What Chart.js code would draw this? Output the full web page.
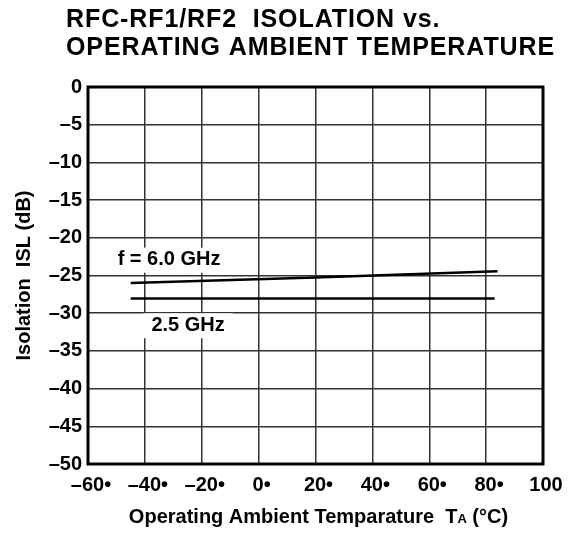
<!DOCTYPE html>
<html>
<head>
<meta charset="utf-8">
<script src="https://cdn.jsdelivr.net/npm/chart.js@4/dist/chart.umd.min.js"></script>
<style>
  html, body { margin: 0; padding: 0; background: #fff; }
  #wrap { width: 570px; height: 534px; position: relative; }
</style>
</head>
<body>
<div id="wrap"><canvas id="islChart"></canvas></div>
<script>
// values
const titleLines = ['RFC-RF1/RF2  ISOLATION vs.', 'OPERATING AMBIENT TEMPERATURE'];

const xTicks = [-60, -40, -20, 0, 20, 40, 60, 80, 100];
const xTickLabels = ['–60•', '–40•', '–20•', '0•', '20•', '40•', '60•', '80•', '100'];
const yTicks = [0, -5, -10, -15, -20, -25, -30, -35, -40, -45, -50];
const yTickLabels = ['0', '–5', '–10', '–15', '–20', '–25', '–30', '–35', '–40', '–45', '–50'];

const temp6G = [-45, 20, 84];
const isl6G = [-26.0, -25.25, -24.45];
const temp25G = [-45, 83];
const isl25G = [-28.05, -28.05];

const curveLabels = [
    { text: 'f = 6.0 GHz', x: -31.5, y: -22.9 },
    { text: '2.5 GHz', x: -24.8, y: -31.6 }
];

const FONT = '"Liberation Sans", Arial, Helvetica, sans-serif';

function toPoints(xs, ys) {
    return xs.map((x, i) => ({ x: x, y: ys[i] }));
}

// title, curve labels with white backing, and the heavy frame
const drawExtras = {
    id: 'drawExtras',
    beforeDatasetsDraw(chart) {
        const ctx = chart.ctx;
        const xs = chart.scales.x, ys = chart.scales.y;
        ctx.save();
        ctx.font = 'bold 20px ' + FONT;
        ctx.textAlign = 'center';
        ctx.textBaseline = 'middle';
        curveLabels.forEach(l => {
            const px = xs.getPixelForValue(l.x);
            const py = ys.getPixelForValue(l.y);
            const w = ctx.measureText(l.text).width;
            ctx.fillStyle = '#fff';
            ctx.fillRect(px - w / 2 - 8, py - 12, w + 16, 25);
            ctx.fillStyle = '#000';
            ctx.fillText(l.text, px, py);
        });
        ctx.restore();
    },
    afterDraw(chart) {
        const ctx = chart.ctx;
        const a = chart.chartArea;
        ctx.save();
        ctx.strokeStyle = '#000';
        ctx.lineWidth = 3;
        ctx.strokeRect(a.left, a.top, a.right - a.left, a.bottom - a.top);

        ctx.fillStyle = '#000';
        ctx.textAlign = 'left';
        ctx.textBaseline = 'alphabetic';
        ctx.font = 'bold 25px ' + FONT;
        ctx.letterSpacing = '0.9px';
        ctx.fillText(titleLines[0], 66, 27);
        ctx.fillText(titleLines[1], 66, 55);
        ctx.letterSpacing = '0px';

        // x axis title with the small "A" in T A
        const big = 'bold 20px ' + FONT, small = 'bold 13px ' + FONT;
        const parts = [
            { t: 'Operating Ambient Temparature  T', f: big },
            { t: 'A', f: small },
            { t: ' (°C)', f: big }
        ];
        let total = 0;
        parts.forEach(p => { ctx.font = p.f; p.w = ctx.measureText(p.t).width; total += p.w; });
        let x = (a.left + a.right) / 2 + 3 - total / 2;
        parts.forEach(p => { ctx.font = p.f; ctx.fillText(p.t, x, 523); x += p.w; });
        ctx.restore();
    }
};

document.addEventListener('DOMContentLoaded', () => {
    const ctx = document.getElementById('islChart').getContext('2d');

    new Chart(ctx, {
        type: 'line',
        data: {
            datasets: [
                {
                    label: '6.0 GHz',
                    data: toPoints(temp6G, isl6G),
                    borderColor: '#000',
                    borderWidth: 2.5,
                    pointRadius: 0,
                    fill: false
                },
                {
                    label: '2.5 GHz',
                    data: toPoints(temp25G, isl25G),
                    borderColor: '#000',
                    borderWidth: 2.5,
                    pointRadius: 0,
                    fill: false
                }
            ]
        },
        options: {
            responsive: true,
            maintainAspectRatio: false,
            animation: false,
            layout: { padding: { top: 87, right: 27, bottom: 0, left: 0 } },
            plugins: {
                legend: { display: false },
                tooltip: { enabled: false }
            },
            scales: {
                x: {
                    type: 'linear',
                    min: -60,
                    max: 100,
                    afterBuildTicks: s => { s.ticks = xTicks.map(v => ({ value: v })); },
                    afterFit: s => { s.height = 70; },
                    grid: { color: '#333', lineWidth: 1.5, drawTicks: false },
                    border: { display: false },
                    ticks: {
                        padding: 9,
                        labelOffset: 3,
                        color: '#000',
                        maxRotation: 0,
                        autoSkip: false,
                        font: { family: FONT, size: 20, weight: 'bold' },
                        callback: v => xTickLabels[xTicks.indexOf(v)]
                    }
                },
                y: {
                    min: -50,
                    max: 0,
                    afterBuildTicks: s => { s.ticks = yTicks.map(v => ({ value: v })); },
                    afterFit: s => { s.width = 88; },
                    grid: { color: '#333', lineWidth: 1.5, drawTicks: false },
                    border: { display: false },
                    title: {
                        display: true,
                        text: 'Isolation  ISL (dB)',
                        color: '#000',
                        font: { family: FONT, size: 20, weight: 'bold' },
                        padding: { top: 12, bottom: 0 }
                    },
                    ticks: {
                        padding: 6,
                        color: '#000',
                        autoSkip: false,
                        font: { family: FONT, size: 20, weight: 'bold' },
                        callback: v => yTickLabels[yTicks.indexOf(v)]
                    }
                }
            }
        },
        plugins: [drawExtras]
    });
});
</script>
</body>
</html>
